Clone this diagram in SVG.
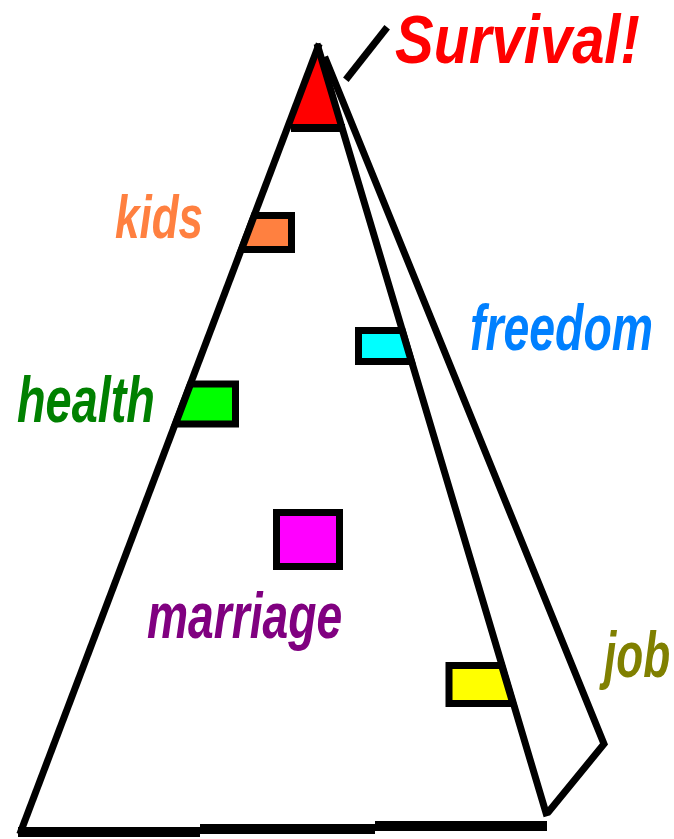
<svg xmlns="http://www.w3.org/2000/svg" width="674" height="839" viewBox="0 0 674 839">
<style>
.ln{fill:none;stroke:#000;stroke-width:7;stroke-linecap:square;stroke-linejoin:miter}
.box{stroke:#000;stroke-width:7;stroke-linejoin:miter}
.lbl{font-family:"Liberation Sans",Arial,sans-serif;font-style:italic;font-weight:bold}
</style>
<rect width="674" height="839" fill="#fff"/>
<g id="survival-tip">
<polygon points="318,47 289,125 341,125" fill="#f00"/>
</g>
<g id="connectors">
<line class="ln" x1="318" y1="47" x2="21" y2="831"/>
<line class="ln" x1="318" y1="47" x2="546" y2="813"/>
<polyline class="ln" points="326,60 604,744 550,810"/>
<line class="ln" x1="348" y1="77" x2="385" y2="30"/>
<line x1="291" y1="128" x2="345" y2="128" stroke="#000" stroke-width="8"/>
<g stroke="#000" stroke-width="10">
<line x1="18" y1="832" x2="200" y2="832"/>
<line x1="200" y1="829" x2="375" y2="829"/>
<line x1="375" y1="826" x2="547" y2="826"/>
</g>
</g>
<g id="survival">
<text class="lbl" font-size="69" fill="#f00" transform="translate(395,63) scale(0.84,1)">Survival!</text>
</g>
<g id="kids">
<polygon class="box" points="254.3,215.5 291.5,215.5 291.5,249.5 241.5,249.5" fill="#ff8040"/>
<text class="lbl" font-size="62" fill="#ff8040" transform="translate(115,238) scale(0.71,1)">kids</text>
</g>
<g id="health">
<polygon class="box" points="190.6,384 235.5,384 235.5,424 175.5,424" fill="#0f0"/>
<text class="lbl" font-size="64" fill="#008000" transform="translate(17,422) scale(0.732,1)">health</text>
</g>
<g id="freedom">
<polygon class="box" points="358.5,330.5 402.2,330.5 411.4,361.5 358.5,361.5" fill="#0ff"/>
<text class="lbl" font-size="64" fill="#0080ff" transform="translate(470,350) scale(0.725,1)">freedom</text>
</g>
<g id="marriage">
<rect class="box" x="276.5" y="512.5" width="63" height="54" fill="#f0f"/>
<text class="lbl" font-size="64" fill="#800080" transform="translate(147,638) scale(0.722,1)">marriage</text>
</g>
<g id="job">
<polygon class="box" points="449,665.5 501.6,665.5 512.9,703.5 449,703.5" fill="#ff0"/>
<text class="lbl" font-size="64" fill="#808000" transform="translate(604,677) scale(0.69,1)">job</text>
</g>
</svg>
